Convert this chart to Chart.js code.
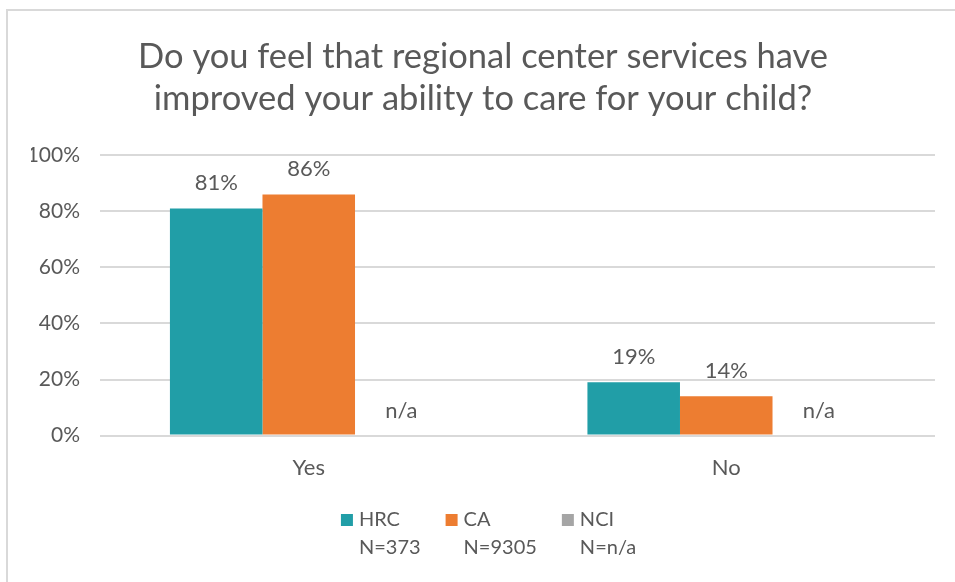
<!DOCTYPE html>
<html>
<head>
<meta charset="utf-8">
<script src="https://cdn.jsdelivr.net/npm/chart.js@4.4.1/dist/chart.umd.min.js"></script>
<style>
  html, body { margin: 0; padding: 0; background: #ffffff; }
  #wrap { position: relative; width: 955px; height: 582px; overflow: hidden; }
  #frame { position: absolute; left: 6px; top: 9px; width: 960px; height: 600px;
           border-left: 2px solid #d9d9d9; border-top: 2px solid #d9d9d9; box-sizing: border-box; pointer-events: none; }
  canvas { position: absolute; left: 0; top: 0; }
</style>
</head>
<body>
<div id="wrap">
  <canvas id="c" width="955" height="582"></canvas>
  <div id="frame"></div>
</div>
<script>
const titleLines = ["Do you feel that regional center services have", "improved your ability to care for your child?"];
const categories = ["Yes", "No"];
const seriesNames = ["HRC", "CA", "NCI"];
const seriesN = ["N=373", "N=9305", "N=n/a"];
const hrcValues = [81, 19];
const caValues = [86, 14];
const nciValues = [null, null];
const yTicks = [0, 20, 40, 60, 80, 100];
const colors = ["#219EA7", "#ED7D31", "#A5A5A5"];

const textColor = "#595959";
const fontFamily = "Lato, 'Open Sans', sans-serif";

const labelPlugin = {
  id: "barLabels",
  afterDatasetsDraw(chart) {
    const ctx = chart.ctx;
    const yScale = chart.scales.y;
    ctx.save();
    ctx.fillStyle = textColor;
    ctx.font = "22px " + fontFamily;
    ctx.textAlign = "center";
    ctx.textBaseline = "alphabetic";
    chart.data.datasets.forEach((ds, di) => {
      const meta = chart.getDatasetMeta(di);
      meta.data.forEach((el, i) => {
        const v = ds.data[i];
        if (v === null || v === undefined) {
          ctx.fillText("n/a", el.x, yScale.getPixelForValue(0) - 18);
        } else {
          ctx.fillText(v + "%", el.x, el.y - 18);
        }
      });
    });
    ctx.restore();
  }
};

// Two-line legend (series name + N) drawn below the plot
const legendPlugin = {
  id: "twoLineLegend",
  afterDraw(chart) {
    const ctx = chart.ctx;
    const fontSize = 20, box = 12, gap = 6, pad = 25, lineH = 28;
    ctx.save();
    ctx.font = fontSize + "px " + fontFamily;
    const widths = seriesNames.map((n, i) =>
      box + gap + Math.max(ctx.measureText(n).width, ctx.measureText(seriesN[i]).width));
    const total = widths.reduce((a, b) => a + b, 0) + pad * (widths.length - 1);
    let x = chart.width / 2 + 11 - total / 2;
    const y1 = chart.height - 62;
    ctx.textBaseline = "middle";
    ctx.textAlign = "left";
    seriesNames.forEach((n, i) => {
      ctx.fillStyle = colors[i];
      ctx.fillRect(x, y1 - box / 2, box, box);
      ctx.fillStyle = textColor;
      ctx.fillText(n, x + box + gap, y1);
      ctx.fillText(seriesN[i], x + box + gap, y1 + lineH);
      x += widths[i] + pad;
    });
    ctx.restore();
  }
};

new Chart(document.getElementById("c"), {
  type: "bar",
  data: {
    labels: categories,
    datasets: [
      { label: seriesNames[0], data: hrcValues, backgroundColor: colors[0] },
      { label: seriesNames[1], data: caValues, backgroundColor: colors[1] },
      { label: seriesNames[2], data: nciValues, backgroundColor: colors[2] }
    ]
  },
  options: {
    responsive: false,
    animation: false,
    devicePixelRatio: 1,
    layout: { padding: { left: 31, right: 20, top: 0, bottom: 82 } },
    datasets: { bar: { categoryPercentage: 0.665, barPercentage: 1.0 } },
    scales: {
      x: {
        grid: { display: false, drawTicks: false },
        border: { display: false },
        ticks: { color: textColor, font: { family: fontFamily, size: 22 }, padding: 19 }
      },
      y: {
        min: 0, max: 100,
        afterBuildTicks(axis) { axis.ticks = yTicks.map(v => ({ value: v })); },
        afterFit(axis) { axis.width = 69; },
        grid: { color: "#d9d9d9", lineWidth: 2, drawTicks: false },
        border: { display: false },
        ticks: { color: textColor, font: { family: fontFamily, size: 21 }, padding: 20,
                 callback: v => v + "%" }
      }
    },
    plugins: {
      title: {
        display: true,
        text: titleLines,
        color: textColor,
        font: { family: fontFamily, size: 34.5, weight: "normal", lineHeight: 1.22 },
        padding: { top: 36, bottom: 35 }
      },
      legend: { display: false },
      tooltip: { enabled: false }
    }
  },
  plugins: [labelPlugin, legendPlugin]
});
</script>
</body>
</html>
